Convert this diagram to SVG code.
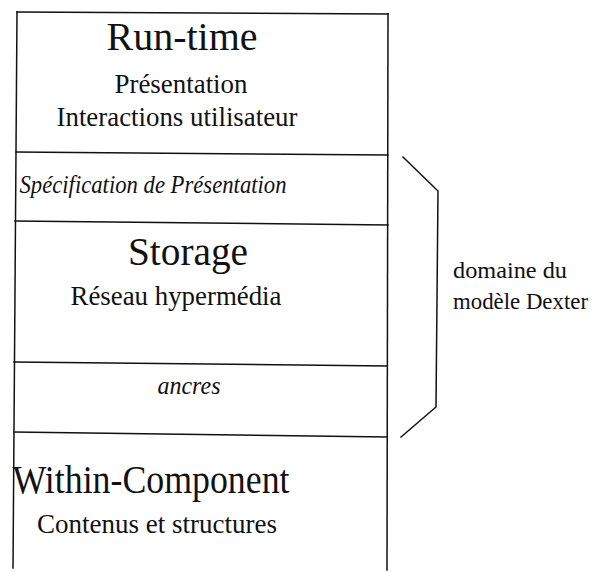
<svg xmlns="http://www.w3.org/2000/svg" width="594" height="572" viewBox="0 0 594 572">
<style>
.ln{stroke:#111;stroke-width:1.5;fill:none;stroke-linecap:square}
.t{font-family:"Liberation Serif","Times New Roman",serif;fill:#111;text-anchor:middle}
.title{font-size:41px}
.sub{font-size:28px}
.it{font-size:25px;font-style:italic}
.lbl{font-family:"Liberation Serif","Times New Roman",serif;fill:#111;font-size:23px}
</style>
<rect width="594" height="572" fill="#fff"/>
<g id="frame">
<line class="ln" x1="17" y1="12" x2="388" y2="14"/>
<line class="ln" x1="17" y1="12" x2="13" y2="568"/>
<line class="ln" x1="388" y1="14" x2="387" y2="570"/>
</g>
<g id="runtime">
<text class="t title" x="182" y="50" textLength="151" lengthAdjust="spacingAndGlyphs">Run-time</text>
<text class="t sub" x="181" y="93" textLength="133" lengthAdjust="spacingAndGlyphs">Présentation</text>
<text class="t sub" x="177" y="126" textLength="241" lengthAdjust="spacingAndGlyphs">Interactions utilisateur</text>
</g>
<g id="specification">
<line class="ln" x1="16" y1="152" x2="388" y2="155"/>
<text class="t it" x="153" y="193" textLength="267" lengthAdjust="spacingAndGlyphs">Spécification de Présentation</text>
</g>
<g id="storage">
<line class="ln" x1="15" y1="221" x2="388" y2="225"/>
<text class="t title" x="188" y="265" textLength="120" lengthAdjust="spacingAndGlyphs">Storage</text>
<text class="t sub" x="176" y="305" textLength="211" lengthAdjust="spacingAndGlyphs">Réseau hypermédia</text>
</g>
<g id="ancres">
<line class="ln" x1="14" y1="362" x2="387" y2="366"/>
<text class="t it" x="189" y="394" textLength="63" lengthAdjust="spacingAndGlyphs">ancres</text>
</g>
<g id="within-component">
<line class="ln" x1="14" y1="432" x2="387" y2="437"/>
<text class="t title" x="151" y="493" textLength="277" lengthAdjust="spacingAndGlyphs">Within-Component</text>
<text class="t sub" x="157" y="533" textLength="240" lengthAdjust="spacingAndGlyphs">Contenus et structures</text>
</g>
<g id="connectors">
<polyline class="ln" points="403,157 438,191 436,407 401,437"/>
</g>
<g id="dexter-label">
<text class="lbl" x="453" y="278" textLength="114" lengthAdjust="spacingAndGlyphs">domaine du</text>
<text class="lbl" x="453" y="309" textLength="135" lengthAdjust="spacingAndGlyphs">modèle Dexter</text>
</g>
</svg>
